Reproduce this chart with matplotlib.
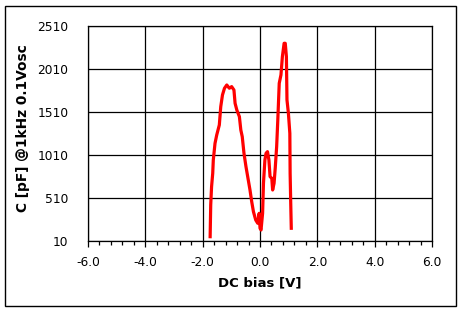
import matplotlib
matplotlib.use("Agg")
import matplotlib.pyplot as plt
from matplotlib.patches import Rectangle
from matplotlib.ticker import MultipleLocator

# C-V sweep (DC bias in V, capacitance in pF)
bias = [-1.74, -1.72, -1.69, -1.65, -1.63, -1.57, -1.51, -1.42, -1.37, -1.31,
        -1.24, -1.16, -1.07, -0.99, -0.91, -0.87, -0.81, -0.72, -0.67, -0.62,
        -0.56, -0.49, -0.43, -0.35, -0.29, -0.23, -0.15, -0.08, -0.03, 0.00,
        0.035, 0.09, 0.12, 0.17, 0.21, 0.26, 0.31, 0.35, 0.41, 0.44,
        0.49, 0.53, 0.58, 0.62, 0.67, 0.73, 0.78, 0.84, 0.88, 0.92,
        0.94, 0.99, 1.04, 1.05, 1.07, 1.09]
cap = [60, 429, 642, 797, 952, 1146, 1243, 1359, 1572, 1708,
       1786, 1824, 1786, 1805, 1766, 1611, 1534, 1456, 1301, 1223,
       1030, 874, 758, 603, 467, 351, 254, 216, 332, 158,
       138, 332, 681, 952, 1030, 1049, 952, 758, 739, 603,
       681, 855, 1107, 1417, 1844, 1941, 2154, 2309, 2309, 2154,
       1650, 1495, 1262, 797, 467, 158]

x_ticks = [-6.0, -4.0, -2.0, 0.0, 2.0, 4.0, 6.0]
y_ticks = [10, 510, 1010, 1510, 2010, 2510]

plt.rcParams["font.family"] = ["DejaVu Sans"]

fig = plt.figure(figsize=(4.64, 3.12), dpi=100)
ax = fig.add_axes([0.1897, 0.2276, 0.7414, 0.6891])

ax.plot(bias, cap, color="#ff0000", linewidth=2.3)

ax.set_xlim(-6, 6)
ax.set_ylim(10, 2510)
ax.set_xticks(x_ticks)
ax.set_xticklabels([f"{v:.1f}" for v in x_ticks])
ax.set_yticks(y_ticks)
ax.xaxis.set_minor_locator(MultipleLocator(0.4))
ax.grid(True, color="black", linewidth=0.9)
ax.set_axisbelow(True)

ax.tick_params(axis="x", which="major", direction="out", length=4, width=0.9,
               labelsize=8.8, pad=7)
ax.tick_params(axis="x", which="minor", direction="out", length=3, width=0.9)
ax.tick_params(axis="y", which="major", length=0, labelsize=8.8, pad=14)
for s in ax.spines.values():
    s.set_linewidth(0.9)

ax.set_xlabel("DC bias [V]", fontsize=9.5, fontweight="semibold", labelpad=5)
ax.set_ylabel("C [pF] @1kHz 0.1Vosc", fontsize=9.9, fontweight="semibold",
              va="center")
ax.yaxis.set_label_coords(-0.189, 0.526)

# thin outer frame like the original chart area
fig.patches.append(Rectangle((0.011, 0.019), 0.972, 0.962, transform=fig.transFigure,
                             fill=False, edgecolor="black", linewidth=1.0))

fig.savefig("out.png", dpi=100)
